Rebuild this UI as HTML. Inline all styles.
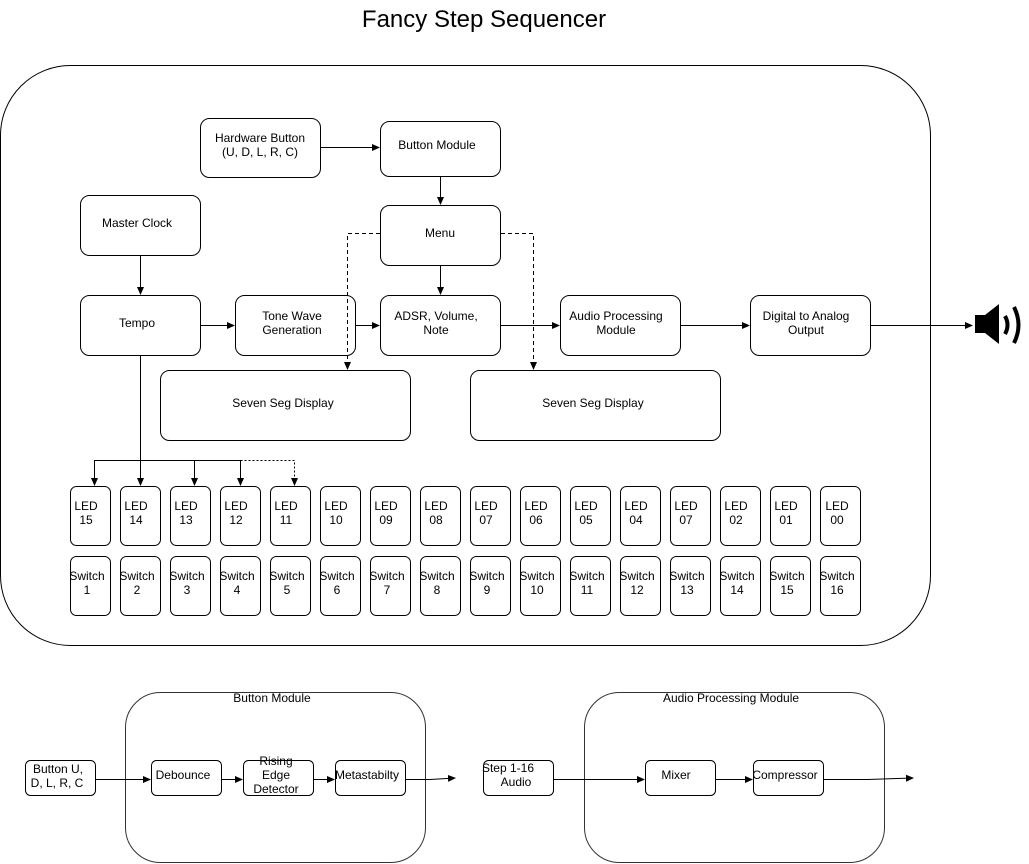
<!DOCTYPE html>
<html><head><meta charset="utf-8"><style>
html,body{margin:0;padding:0;background:#fff;}
svg{display:block;font-family:"Liberation Sans",sans-serif;}
text{font-size:12px;fill:#000;}
</style></head><body>
<svg width="1029" height="864" viewBox="0 0 1029 864" xmlns="http://www.w3.org/2000/svg">
<defs>
<marker id="a" markerWidth="8" markerHeight="8" refX="7" refY="4" orient="auto" markerUnits="userSpaceOnUse"><path d="M0,0.5 L8,4 L0,7.5 Z" fill="#000"/></marker>
</defs>
<text x="484" y="27" text-anchor="middle" style="font-size:24px">Fancy Step Sequencer</text>
<rect x="0.5" y="65.5" width="930" height="580" rx="70" ry="70" fill="none" stroke="#000"/>
<g fill="#fff" stroke="#000" stroke-width="1">
<rect x="200.5" y="118.5" width="120" height="59" rx="9"/>
<rect x="380.5" y="121.5" width="120" height="55" rx="9"/>
<rect x="80.5" y="195.5" width="120" height="60" rx="9"/>
<rect x="380.5" y="205.5" width="120" height="60" rx="9"/>
<rect x="80.5" y="295.5" width="120" height="60" rx="9"/>
<rect x="235.5" y="295.5" width="120" height="60" rx="9"/>
<rect x="380.5" y="295.5" width="120" height="60" rx="9"/>
<rect x="560.5" y="295.5" width="120" height="60" rx="9"/>
<rect x="750.5" y="295.5" width="120" height="60" rx="9"/>
<rect x="160.5" y="370.5" width="250" height="70" rx="9"/>
<rect x="470.5" y="370.5" width="250" height="70" rx="9"/>
</g>
<g text-anchor="middle">
<text x="260" y="142">Hardware Button</text><text x="260" y="156">(U, D, L, R, C)</text>
<text x="437" y="149">Button Module</text>
<text x="137" y="227">Master Clock</text>
<text x="440" y="237">Menu</text>
<text x="137" y="327">Tempo</text>
<text x="292" y="320">Tone Wave</text><text x="292" y="334">Generation</text>
<text x="436" y="320">ADSR, Volume,</text><text x="436" y="334">Note</text>
<text x="616" y="320">Audio Processing</text><text x="616" y="334">Module</text>
<text x="806" y="320">Digital to Analog</text><text x="806" y="334">Output</text>
<text x="283" y="407">Seven Seg Display</text>
<text x="593" y="407">Seven Seg Display</text>
</g>
<g stroke="#000" fill="none">
<line x1="320" y1="147.5" x2="379" y2="147.5" marker-end="url(#a)"/>
<line x1="440.5" y1="177" x2="440.5" y2="204" marker-end="url(#a)"/>
<line x1="440.5" y1="266" x2="440.5" y2="294" marker-end="url(#a)"/>
<line x1="140.5" y1="256" x2="140.5" y2="294" marker-end="url(#a)"/>
<line x1="201" y1="325.5" x2="234" y2="325.5" marker-end="url(#a)"/>
<line x1="356" y1="325.5" x2="379" y2="325.5" marker-end="url(#a)"/>
<line x1="501" y1="325.5" x2="559" y2="325.5" marker-end="url(#a)"/>
<line x1="681" y1="325.5" x2="749" y2="325.5" marker-end="url(#a)"/>
<line x1="871" y1="325.5" x2="972" y2="325.5" marker-end="url(#a)"/>
<path d="M380,233.5 H347.5 V369" stroke-dasharray="4,3" marker-end="url(#a)"/>
<path d="M501,233.5 H533.5 V369" stroke-dasharray="4,3" marker-end="url(#a)"/>
<line x1="140.5" y1="356" x2="140.5" y2="485" marker-end="url(#a)"/>
<path d="M240.5,460.5 H94.5 V485" marker-end="url(#a)"/>
<line x1="194.5" y1="460" x2="194.5" y2="485" marker-end="url(#a)"/>
<line x1="240.5" y1="460" x2="240.5" y2="485" marker-end="url(#a)"/>
<path d="M240.5,460.5 H294.5 V485" stroke-dasharray="2,2" marker-end="url(#a)"/>
</g>
<path d="M975,315 h10 l14,-11 v40 l-14,-11 h-10 Z" fill="#000"/>
<path d="M1005,316 q5,9 0,18" stroke="#000" stroke-width="4" fill="none"/>
<path d="M1014,307 q9,18 0,36" stroke="#000" stroke-width="4" fill="none"/>
<g fill="#fff" stroke="#000">
<rect x="70.5" y="486.5" width="40" height="59" rx="6"/><rect x="120.5" y="486.5" width="40" height="59" rx="6"/>
<rect x="170.5" y="486.5" width="40" height="59" rx="6"/><rect x="220.5" y="486.5" width="40" height="59" rx="6"/>
<rect x="270.5" y="486.5" width="40" height="59" rx="6"/><rect x="320.5" y="486.5" width="40" height="59" rx="6"/>
<rect x="370.5" y="486.5" width="40" height="59" rx="6"/><rect x="420.5" y="486.5" width="40" height="59" rx="6"/>
<rect x="470.5" y="486.5" width="40" height="59" rx="6"/><rect x="520.5" y="486.5" width="40" height="59" rx="6"/>
<rect x="570.5" y="486.5" width="40" height="59" rx="6"/><rect x="620.5" y="486.5" width="40" height="59" rx="6"/>
<rect x="670.5" y="486.5" width="40" height="59" rx="6"/><rect x="720.5" y="486.5" width="40" height="59" rx="6"/>
<rect x="770.5" y="486.5" width="40" height="59" rx="6"/><rect x="820.5" y="486.5" width="40" height="59" rx="6"/>
<rect x="70.5" y="556.5" width="40" height="59" rx="6"/><rect x="120.5" y="556.5" width="40" height="59" rx="6"/>
<rect x="170.5" y="556.5" width="40" height="59" rx="6"/><rect x="220.5" y="556.5" width="40" height="59" rx="6"/>
<rect x="270.5" y="556.5" width="40" height="59" rx="6"/><rect x="320.5" y="556.5" width="40" height="59" rx="6"/>
<rect x="370.5" y="556.5" width="40" height="59" rx="6"/><rect x="420.5" y="556.5" width="40" height="59" rx="6"/>
<rect x="470.5" y="556.5" width="40" height="59" rx="6"/><rect x="520.5" y="556.5" width="40" height="59" rx="6"/>
<rect x="570.5" y="556.5" width="40" height="59" rx="6"/><rect x="620.5" y="556.5" width="40" height="59" rx="6"/>
<rect x="670.5" y="556.5" width="40" height="59" rx="6"/><rect x="720.5" y="556.5" width="40" height="59" rx="6"/>
<rect x="770.5" y="556.5" width="40" height="59" rx="6"/><rect x="820.5" y="556.5" width="40" height="59" rx="6"/>
</g>
<g text-anchor="middle">
<text x="86" y="510">LED</text><text x="86" y="524">15</text>
<text x="136" y="510">LED</text><text x="136" y="524">14</text>
<text x="186" y="510">LED</text><text x="186" y="524">13</text>
<text x="236" y="510">LED</text><text x="236" y="524">12</text>
<text x="286" y="510">LED</text><text x="286" y="524">11</text>
<text x="336" y="510">LED</text><text x="336" y="524">10</text>
<text x="386" y="510">LED</text><text x="386" y="524">09</text>
<text x="436" y="510">LED</text><text x="436" y="524">08</text>
<text x="486" y="510">LED</text><text x="486" y="524">07</text>
<text x="536" y="510">LED</text><text x="536" y="524">06</text>
<text x="586" y="510">LED</text><text x="586" y="524">05</text>
<text x="636" y="510">LED</text><text x="636" y="524">04</text>
<text x="686" y="510">LED</text><text x="686" y="524">07</text>
<text x="736" y="510">LED</text><text x="736" y="524">02</text>
<text x="786" y="510">LED</text><text x="786" y="524">01</text>
<text x="837" y="510">LED</text><text x="837" y="524">00</text>
<text x="87" y="580">Switch</text><text x="87" y="594">1</text>
<text x="137" y="580">Switch</text><text x="137" y="594">2</text>
<text x="187" y="580">Switch</text><text x="187" y="594">3</text>
<text x="237" y="580">Switch</text><text x="237" y="594">4</text>
<text x="287" y="580">Switch</text><text x="287" y="594">5</text>
<text x="337" y="580">Switch</text><text x="337" y="594">6</text>
<text x="387" y="580">Switch</text><text x="387" y="594">7</text>
<text x="437" y="580">Switch</text><text x="437" y="594">8</text>
<text x="487" y="580">Switch</text><text x="487" y="594">9</text>
<text x="537" y="580">Switch</text><text x="537" y="594">10</text>
<text x="587" y="580">Switch</text><text x="587" y="594">11</text>
<text x="637" y="580">Switch</text><text x="637" y="594">12</text>
<text x="687" y="580">Switch</text><text x="687" y="594">13</text>
<text x="737" y="580">Switch</text><text x="737" y="594">14</text>
<text x="787" y="580">Switch</text><text x="787" y="594">15</text>
<text x="837" y="580">Switch</text><text x="837" y="594">16</text>
</g>
<!-- bottom -->
<g fill="none" stroke="#333">
<rect x="125.5" y="692.5" width="300" height="170" rx="35"/>
<rect x="584.5" y="692.5" width="300" height="170" rx="35"/>
</g>
<g fill="#fff" stroke="#000">
<rect x="25.5" y="760.5" width="70" height="35" rx="5"/>
<rect x="151.5" y="760.5" width="70" height="35" rx="5"/>
<rect x="243.5" y="760.5" width="70" height="35" rx="5"/>
<rect x="335.5" y="760.5" width="70" height="35" rx="5"/>
<rect x="483.5" y="760.5" width="70" height="35" rx="5"/>
<rect x="645.5" y="760.5" width="70" height="35" rx="5"/>
<rect x="753.5" y="760.5" width="70" height="35" rx="5"/>
</g>
<g stroke="#000" fill="none">
<line x1="96" y1="779.5" x2="150" y2="779.5" marker-end="url(#a)"/>
<line x1="222" y1="779.5" x2="242" y2="779.5" marker-end="url(#a)"/>
<line x1="314" y1="779.5" x2="334" y2="779.5" marker-end="url(#a)"/>
<path d="M406,779.5 L430,779.5 L455,778" marker-end="url(#a)"/>
<line x1="554" y1="779.5" x2="644" y2="779.5" marker-end="url(#a)"/>
<line x1="716" y1="779.5" x2="752" y2="779.5" marker-end="url(#a)"/>
<path d="M824,779.5 L868,779.5 L913,778" marker-end="url(#a)"/>
</g>
<g text-anchor="middle">
<text x="272" y="702">Button Module</text>
<text x="731" y="702">Audio Processing Module</text>
<text x="58" y="773">Button U,</text><text x="57" y="787">D, L, R, C</text>
<text x="183" y="779">Debounce</text>
<text x="276" y="765">Rising</text><text x="276" y="779">Edge</text><text x="276" y="793">Detector</text>
<text x="367" y="779">Metastabilty</text>
<text x="508" y="772">Step 1-16</text><text x="516" y="786">Audio</text>
<text x="676" y="779">Mixer</text>
<text x="785" y="779">Compressor</text>
</g>
</svg>
</body></html>
